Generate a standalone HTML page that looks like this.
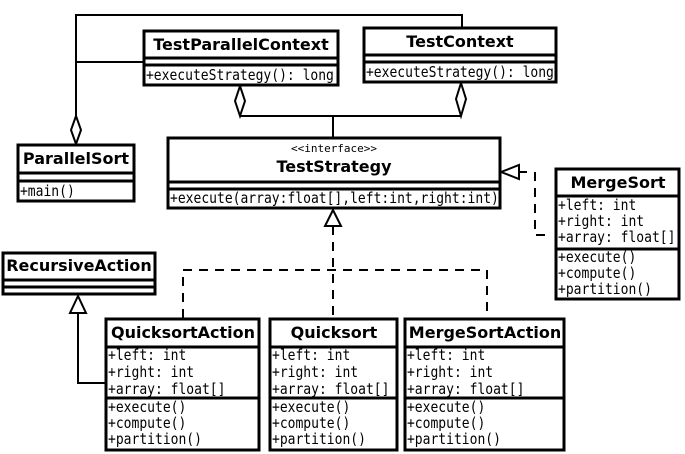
<!DOCTYPE html>
<html><head><meta charset="utf-8"><style>
html,body{margin:0;padding:0;background:#fff;}
svg{display:block;}
.t{font-family:"DejaVu Sans","Liberation Sans",sans-serif;font-weight:bold;font-size:16px;text-anchor:middle;}
.m{font-family:"DejaVu Sans Mono","Liberation Mono",monospace;font-size:15.5px;}
.s{font-family:"DejaVu Sans Mono","Liberation Mono",monospace;font-size:11px;text-anchor:middle;}
</style></head><body>
<svg width="685" height="454" viewBox="0 0 685 454" xmlns="http://www.w3.org/2000/svg">
<g fill="none" stroke="#000" stroke-width="2">
<polyline points="462,27 462,15 76,15 76,118"/>
<line x1="76" y1="62" x2="143" y2="62"/>
<polygon points="76,116 81,130 76,144 71,130" fill="#fff"/>
<polygon points="240,86 245,101 240,116 235,101" fill="#fff"/>
<polygon points="461,83 466,99 461,116 456,99" fill="#fff"/>
<line x1="240" y1="116" x2="461" y2="116"/>
<line x1="333" y1="116" x2="333" y2="137"/>
<polygon points="501,172 519,165 519,179" fill="#fff"/>
<line x1="519" y1="172" x2="527" y2="172"/>
<polyline points="535,172 535,235 550,235" stroke-dasharray="9,7"/>
<polygon points="333,210 325,226 341,226" fill="#fff"/>
<line x1="333" y1="226" x2="333" y2="318" stroke-dasharray="9,7"/>
<polyline points="183,318 183,270 487,270 487,318" stroke-dasharray="9,7"/>
<polygon points="78,296 70,313 86,313" fill="#fff"/>
<polyline points="78,313 78,383 105,383"/>
</g>
<g fill="#fff" stroke="#000" stroke-width="3">
<rect x="144" y="31" width="194" height="54"/>
<rect x="364" y="28" width="192" height="54"/>
<rect x="18" y="145" width="116" height="56"/>
<rect x="168" y="138" width="332" height="70"/>
<rect x="556" y="169" width="123" height="130"/>
<rect x="3" y="253" width="152" height="41"/>
<rect x="106" y="319" width="153" height="131"/>
<rect x="270" y="319" width="127" height="131"/>
<rect x="405" y="319" width="159" height="131"/>
</g>
<g stroke="#000" stroke-width="3">
<line x1="144" y1="58" x2="338" y2="58"/><line x1="144" y1="65" x2="338" y2="65"/>
<line x1="364" y1="55" x2="556" y2="55"/><line x1="364" y1="62" x2="556" y2="62"/>
<line x1="18" y1="173" x2="134" y2="173"/><line x1="18" y1="181" x2="134" y2="181"/>
<line x1="168" y1="182" x2="500" y2="182"/><line x1="168" y1="189" x2="500" y2="189"/>
<line x1="556" y1="196" x2="679" y2="196"/><line x1="556" y1="249" x2="679" y2="249"/>
<line x1="3" y1="280" x2="155" y2="280"/><line x1="3" y1="287" x2="155" y2="287"/>
<line x1="106" y1="347" x2="259" y2="347"/><line x1="106" y1="398" x2="259" y2="398"/>
<line x1="270" y1="347" x2="397" y2="347"/><line x1="270" y1="398" x2="397" y2="398"/>
<line x1="405" y1="347" x2="564" y2="347"/><line x1="405" y1="398" x2="564" y2="398"/>
</g>
<g fill="#000">
<text class="t" x="241" y="50">TestParallelContext</text>
<text class="t" x="460" y="47">TestContext</text>
<text class="t" x="76" y="164">ParallelSort</text>
<text class="s" x="334" y="152">&lt;&lt;interface&gt;&gt;</text>
<text class="t" x="334" y="172">TestStrategy</text>
<text class="t" x="618" y="188">MergeSort</text>
<text class="t" x="79" y="271">RecursiveAction</text>
<text class="t" x="183" y="338">QuicksortAction</text>
<text class="t" x="334" y="338">Quicksort</text>
<text class="t" x="485" y="338">MergeSortAction</text>
</g>
<g fill="#000" transform="scale(0.84 1)">
<text class="m" x="173.8" y="80">+executeStrategy(): long</text>
<text class="m" x="435.7" y="77">+executeStrategy(): long</text>
<text class="m" x="23.8" y="196">+main()</text>
<text class="m" x="202.4" y="203">+execute(array:float[],left:int,right:int)</text>
<text class="m" x="664.3" y="210">+left: int</text>
<text class="m" x="664.3" y="226">+right: int</text>
<text class="m" x="664.3" y="242">+array: float[]</text>
<text class="m" x="664.3" y="262">+execute()</text>
<text class="m" x="664.3" y="278">+compute()</text>
<text class="m" x="664.3" y="294">+partition()</text>
<text class="m" x="128.6" y="360">+left: int</text>
<text class="m" x="128.6" y="377">+right: int</text>
<text class="m" x="128.6" y="394">+array: float[]</text>
<text class="m" x="128.6" y="412">+execute()</text>
<text class="m" x="128.6" y="428">+compute()</text>
<text class="m" x="128.6" y="444">+partition()</text>
<text class="m" x="323.8" y="360">+left: int</text>
<text class="m" x="323.8" y="377">+right: int</text>
<text class="m" x="323.8" y="394">+array: float[]</text>
<text class="m" x="323.8" y="412">+execute()</text>
<text class="m" x="323.8" y="428">+compute()</text>
<text class="m" x="323.8" y="444">+partition()</text>
<text class="m" x="484.5" y="360">+left: int</text>
<text class="m" x="484.5" y="377">+right: int</text>
<text class="m" x="484.5" y="394">+array: float[]</text>
<text class="m" x="484.5" y="412">+execute()</text>
<text class="m" x="484.5" y="428">+compute()</text>
<text class="m" x="484.5" y="444">+partition()</text>
</g>
</svg>
</body></html>
